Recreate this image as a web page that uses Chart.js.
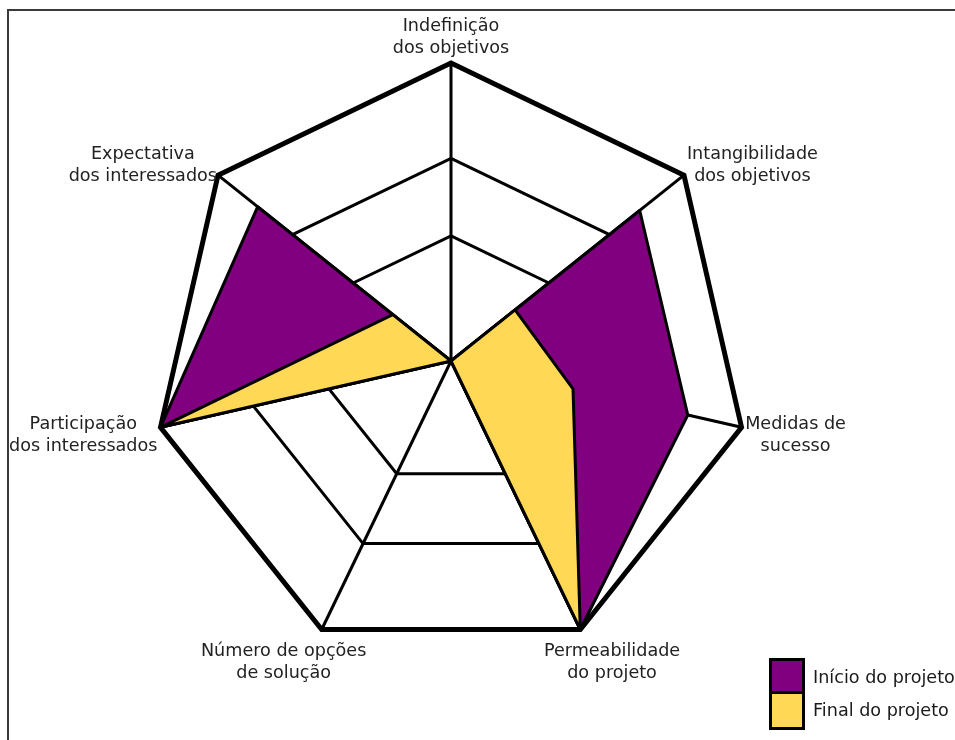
<!DOCTYPE html>
<html lang="pt">
<head>
<meta charset="utf-8">
<title>Radar - início e final do projeto</title>
<script src="https://cdn.jsdelivr.net/npm/chart.js@4.4.0/dist/chart.umd.min.js"></script>
<style>
    body { margin: 0; background: #fff; }
    #wrap { position: relative; width: 955px; height: 740px; overflow: hidden; }
    #frame {
        position: absolute; left: 7px; top: 9px; width: 1000px; height: 800px;
        border-top: 2px solid #3a3a3a; border-left: 2px solid #3a3a3a;
    }
    #legend {
        position: absolute; left: 769px; top: 659px;
        font-family: "DejaVu Sans", Verdana, sans-serif; font-size: 17.6px; color: #1a1a1a;
    }
    .item { display: flex; align-items: center; height: 36px; margin-top: -3px; white-space: nowrap; }
    .swatch { width: 30px; height: 33px; border: 3px solid #000; box-sizing: content-box; margin-right: 8px; }
    .item:first-child { margin-top: 0; }
</style>
</head>
<body>
<div id="wrap">
    <div id="frame"></div>
    <canvas id="radarChart" width="955" height="740"></canvas>
    <div id="legend"></div>
</div>
<script>
// Axis labels (clockwise from the top)
const axisLabels = [
    ['Indefinição', 'dos objetivos'],
    ['Intangibilidade', 'dos objetivos'],
    ['Medidas de', 'sucesso'],
    ['Permeabilidade', 'do projeto'],
    ['Número de opções', 'de solução'],
    ['Participação', 'dos interessados'],
    ['Expectativa', 'dos interessados']
];

// Series values (scale 0-10)
const inicioValues = [0, 8.1, 8.15, 10, 0, 10, 8.3];
const finalValues = [0, 2.75, 4.2, 10, 0, 10, 2.5];

// Grid rings (not evenly spaced in the original)
const ringValues = [0, 4.2, 6.8, 10];

const seriesNames = ['Início do projeto', 'Final do projeto'];
const seriesColors = ['#800080', '#ffd955'];

const labelFont = '17.6px "DejaVu Sans", Verdana, sans-serif';
const labelLineHeight = 22;

// Draw the axis labels centred, pushed outward from each vertex
const axisLabelPlugin = {
    id: 'axisLabels',
    afterDraw(chart) {
        const scale = chart.scales.r;
        const ctx = chart.ctx;
        ctx.save();
        ctx.font = labelFont;
        ctx.fillStyle = '#222';
        ctx.textAlign = 'center';
        ctx.textBaseline = 'middle';
        axisLabels.forEach((lines, i) => {
            const p = scale.getPointPosition(i, scale.drawingArea);
            const cos = Math.cos(p.angle);
            const sin = Math.sin(p.angle);
            const w = Math.max(...lines.map(l => ctx.measureText(l).width));
            const h = lines.length * labelLineHeight;
            const upper = sin < 0;
            const cx = p.x + cos * (w / 2 + (upper ? 22 : 5));
            const cy = upper ? p.y - sin * sin * (h / 2 + 4) : p.y + sin * (h / 2 + 14);
            lines.forEach((line, k) => {
                ctx.fillText(line, cx, cy - h / 2 + labelLineHeight * (k + 0.5));
            });
        });
        ctx.restore();
    }
};

const radarChart = new Chart(document.getElementById('radarChart'), {
    type: 'radar',
    data: {
        labels: axisLabels,
        datasets: [
            {
                label: seriesNames[0],
                data: inicioValues,
                backgroundColor: seriesColors[0],
                borderColor: '#000',
                borderWidth: 3,
                borderJoinStyle: 'bevel',
                fill: true,
                pointRadius: 0,
                order: 2
            },
            {
                label: seriesNames[1],
                data: finalValues,
                backgroundColor: seriesColors[1],
                borderColor: '#000',
                borderWidth: 3,
                borderJoinStyle: 'bevel',
                fill: true,
                pointRadius: 0,
                order: 1
            }
        ]
    },
    options: {
        responsive: false,
        animation: false,
        layout: {
            padding: { left: 120, right: 173, top: 63, bottom: 81 }
        },
        plugins: {
            legend: { display: false },
            tooltip: { enabled: false }
        },
        scales: {
            r: {
                min: 0,
                max: 10,
                afterBuildTicks: (scale) => {
                    scale.ticks = ringValues.map(v => ({ value: v }));
                },
                ticks: { display: false },
                pointLabels: { display: false },
                grid: {
                    color: '#000',
                    lineWidth: (ctx) => (ctx.tick && ctx.tick.value === 10 ? 5 : 3)
                },
                angleLines: {
                    color: '#000',
                    lineWidth: 3
                }
            }
        }
    },
    plugins: [axisLabelPlugin]
});

// HTML legend built from the series
const legend = document.getElementById('legend');
seriesNames.forEach((name, i) => {
    const item = document.createElement('div');
    item.className = 'item';
    item.innerHTML = `<span class="swatch" style="background:${seriesColors[i]}"></span><span>${name}</span>`;
    legend.appendChild(item);
});
</script>
</body>
</html>
